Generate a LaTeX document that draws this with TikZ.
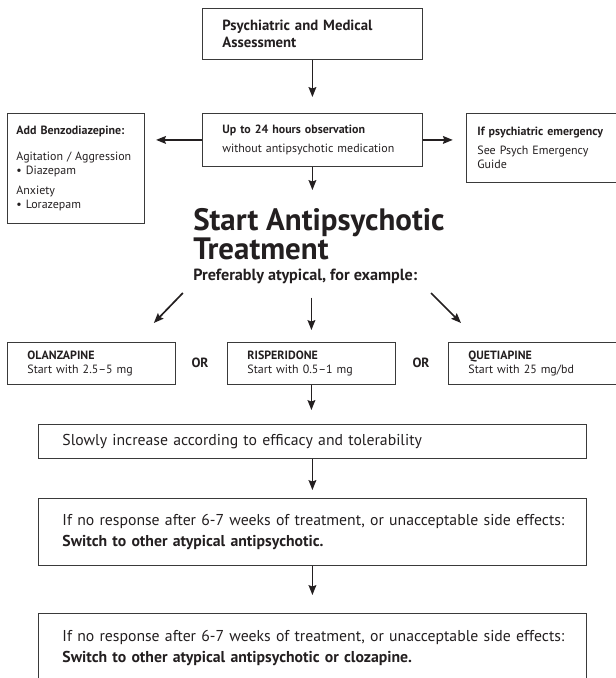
\documentclass[tikz,border=0pt]{standalone}
\usepackage{fontspec}
\setmainfont{PT Sans}
\usepackage{xcolor}
\usetikzlibrary{arrows.meta,calc}
\definecolor{ink}{HTML}{231F20}
\definecolor{rule}{HTML}{3A3A3A}

\begin{document}
\begin{tikzpicture}[
  box/.style={draw=rule, line width=0.6pt, anchor=north west, inner ysep=0pt, align=left, text=ink},
  arr/.style={-{Stealth[length=7pt,width=5.5pt,inset=1pt]}, line width=1.2pt, draw=ink},
  small/.style={font=\fontsize{8.5}{10}\selectfont},
  body/.style={font=\fontsize{11.2}{15}\selectfont}
]
\useasboundingbox (0,0) rectangle (15.375,-16.95);

%assessment and observation
\node[box,minimum width=5.5cm,minimum height=1.275cm,inner xsep=0.5cm,text width=4.5cm,font=\bfseries\fontsize{10.5}{11.8}\selectfont] (assess) at (5.05,-0.2) {Psychiatric and Medical\\Assessment};
\node[box,small,minimum width=5.5cm,minimum height=1.325cm,inner xsep=0.5cm,text width=4.5cm] (observe) at (5.05,-2.825) {\textbf{Up to 24 hours observation}\\[3.5pt]without antipsychotic medication};
\node[box,small,minimum width=3.425cm,minimum height=2.75cm,inner xsep=0.225cm,text width=2.975cm] (benzo) at (0.175,-2.825) {\textbf{Add Benzodiazepine:}\\[9pt]Agitation / Aggression\\• Diazepam\\[4pt]Anxiety\\• Lorazepam};
\node[box,small,minimum width=4cm,minimum height=1.725cm,inner xsep=0.275cm,text width=3.45cm] (emerg) at (11.65,-2.825) {\textbf{If psychiatric emergency}\\[4pt]See Psych Emergency\\Guide};
\draw[arr,shorten >=0.4cm] (assess) -- (observe);
\draw[arr,shorten >=0.28cm] (observe.west) -- (observe.west -| benzo.east);
\draw[arr,shorten >=0.33cm] (observe.east) -- (observe.east -| emerg.west);

%start treatment
\node[anchor=north west,inner sep=0pt,align=left,text=ink,font=\bfseries\fontsize{22}{19.5}\selectfont] (start) at (4.825,-5.2) {Start Antipsychotic\\Treatment};
\node[anchor=base west,inner sep=0pt,text=ink,font=\bfseries\fontsize{11.5}{13}\selectfont] (prefer) at (4.825,-7.02) {Preferably atypical, for example:};
\draw[arr,shorten >=0.45cm] (observe.south) -- (observe.south |- start.north);

%drug choices
\node[box,small,minimum width=4.2cm,minimum height=1.05cm,inner xsep=0.5cm,text width=3.2cm] (olz) at (0.175,-8.55) {\textbf{OLANZAPINE}\\Start with 2.5–5 mg};
\node[box,small,minimum width=4.2cm,minimum height=1.05cm,inner xsep=0.5cm,text width=3.2cm] (risp) at (5.675,-8.55) {\textbf{RISPERIDONE}\\Start with 0.5–1 mg};
\node[box,small,minimum width=4.4cm,minimum height=1.05cm,inner xsep=0.5cm,text width=3.4cm] (quet) at (11.2,-8.55) {\textbf{QUETIAPINE}\\Start with 25 mg/bd};
\node[text=ink,font=\bfseries\fontsize{9.5}{11}\selectfont] (or1) at (5.0,-9.075) {OR};
\node[text=ink,font=\bfseries\fontsize{9.5}{11}\selectfont] (or2) at (10.525,-9.075) {OR};
\coordinate (olzTip) at ($(olz.north east)+(-0.55,0.475)$);
\coordinate (olzTail) at ($(olzTip)+(0.725,0.75)$);
\coordinate (quetTip) at ($(quet.north west)+(0.325,0.475)$);
\coordinate (quetTail) at ($(quetTip)+(-0.75,0.75)$);
\draw[arr] (olzTail) -- (olzTip);
\draw[arr,shorten <=0.33cm,shorten >=0.3cm] (risp.north |- prefer.south) -- (risp.north);
\draw[arr] (quetTail) -- (quetTip);

%titration and switching
\node[box,body,minimum width=13.7cm,minimum height=0.85cm,inner xsep=0.6cm,text width=12.5cm] (slow) at (0.95,-10.6) {Slowly increase according to efficacy and tolerability};
\node[box,body,minimum width=13.7cm,minimum height=1.675cm,inner xsep=0.6cm,text width=12.5cm] (switch1) at (0.95,-12.45) {\mbox{If no response after 6-7 weeks of treatment, or unacceptable side effects:}\\\textbf{Switch to other atypical antipsychotic.}};
\node[box,body,minimum width=13.7cm,minimum height=1.75cm,inner xsep=0.6cm,text width=12.5cm] (switch2) at (0.95,-15.325) {\mbox{If no response after 6-7 weeks of treatment, or unacceptable side effects:}\\\textbf{Switch to other atypical antipsychotic or clozapine.}};
\draw[arr,shorten >=0.35cm] (risp.south) -- (risp.south |- slow.north);
\draw[arr,shorten >=0.2cm] (slow) -- (switch1);
\draw[arr,shorten >=0.45cm] (switch1) -- (switch2);
\end{tikzpicture}
\end{document}
